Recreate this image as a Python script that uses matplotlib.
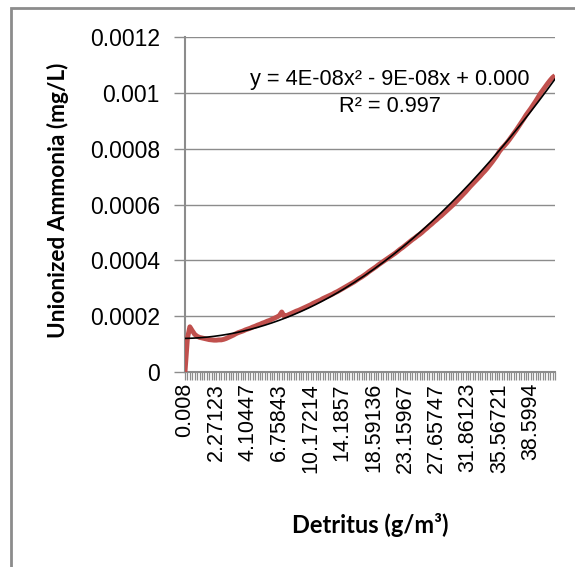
import numpy as np
import matplotlib.pyplot as plt
from matplotlib.patches import Rectangle

# Detritus category labels shown on the axis (one every 13 categories)
detritus_labels = ['0.008', '2.27123', '4.10447', '6.75843', '10.17214', '14.1857',
                   '18.59136', '23.15967', '27.65747', '31.86123', '35.56721', '38.5994']
label_step = 13
n_points = 154

# Unionized ammonia (units of 1e-4 mg/L)
ammonia_e4 = [
    0.00, 1.20, 1.62, 1.48, 1.35, 1.28, 1.24, 1.22, 1.20, 1.18,
    1.16, 1.15, 1.14, 1.14, 1.15, 1.15, 1.17, 1.20, 1.24, 1.28,
    1.32, 1.37, 1.41, 1.44, 1.47, 1.51, 1.54, 1.57, 1.61, 1.64,
    1.68, 1.71, 1.75, 1.78, 1.82, 1.85, 1.89, 1.93, 1.97, 2.02,
    2.15, 2.00, 2.02, 2.06, 2.10, 2.14, 2.18, 2.21, 2.25, 2.29,
    2.33, 2.37, 2.41, 2.46, 2.50, 2.54, 2.58, 2.63, 2.67, 2.71,
    2.75, 2.79, 2.84, 2.88, 2.93, 2.98, 3.03, 3.08, 3.13, 3.18,
    3.23, 3.29, 3.35, 3.40, 3.46, 3.52, 3.59, 3.65, 3.71, 3.77,
    3.84, 3.90, 3.96, 4.02, 4.08, 4.14, 4.20, 4.26, 4.33, 4.40,
    4.46, 4.53, 4.60, 4.67, 4.74, 4.80, 4.87, 4.93, 5.00, 5.08,
    5.15, 5.23, 5.30, 5.38, 5.45, 5.53, 5.60, 5.68, 5.76, 5.84,
    5.92, 6.00, 6.09, 6.18, 6.27, 6.36, 6.45, 6.55, 6.65, 6.74,
    6.83, 6.92, 7.01, 7.11, 7.20, 7.30, 7.41, 7.52, 7.64, 7.76,
    7.90, 8.01, 8.10, 8.20, 8.31, 8.43, 8.55, 8.67, 8.80, 8.93,
    9.06, 9.20, 9.32, 9.44, 9.57, 9.70, 9.84, 9.98, 10.10, 10.22,
    10.34, 10.45, 10.55, 10.62,
]

y = np.array(ammonia_e4) * 1e-4
idx = np.arange(len(y))

# polynomial trendline (Excel uses x = 1..n for line charts)
coef = np.polyfit(idx + 1, y, 2)
trend = np.polyval(coef, idx + 1)

fig = plt.figure(figsize=(5.75, 5.67), dpi=100)
ax = fig.add_axes([185/575, 1 - 372/567, (555 - 185)/575, (372 - 37)/567])

grey = '#8c8c8c'
ax.plot(idx, y, color='#c0504d', lw=3.5, solid_capstyle='butt', zorder=3)
ax.plot(idx, trend, color='black', lw=1.2, zorder=4)

ax.set_xlim(0, n_points - 1)
ax.set_ylim(0, 0.0012)
ax.set_yticks(np.arange(0, 0.00121, 0.0002))
ax.set_yticklabels(['0', '0.0002', '0.0004', '0.0006', '0.0008', '0.001', '0.0012'],
                   family='Liberation Sans', fontsize=16.5)
ax.yaxis.grid(True, color=grey, lw=1)

labels = [''] * n_points
for k, lab in enumerate(detritus_labels):
    labels[k * label_step] = lab
ax.set_xticks(idx)
ax.set_xticklabels(labels, rotation=90, family='Liberation Sans', fontsize=15.5)

ax.tick_params(axis='y', length=8, color=grey, width=1, pad=10)
ax.tick_params(axis='x', length=6, color=grey, width=0.9, pad=2)
for s in ['top', 'right']:
    ax.spines[s].set_visible(False)
for s in ['left', 'bottom']:
    ax.spines[s].set_color(grey)
    ax.spines[s].set_linewidth(1.5)

fig.text(58/575, 1 - 200/567, 'Unionized Ammonia (mg/L)', family='Lato',
         fontweight='bold', fontsize=16.3, rotation=90, ha='center', va='center')
fig.text(370/575, 1 - 525/567, 'Detritus (g/m³)', family='Lato',
         fontweight='bold', fontsize=17, ha='center', va='center')

fig.text(390/575, 1 - 80/567, 'y = 4E-08x² - 9E-08x + 0.000', family='Liberation Sans',
         fontsize=15.7, ha='center', va='center')
fig.text(390/575, 1 - 107/567, 'R² = 0.997', family='Liberation Sans',
         fontsize=15.7, ha='center', va='center')

fig.patches.append(Rectangle((11/575, -0.05), 1.1, 1 - 8/567 + 0.05,
                             transform=fig.transFigure, fill=False,
                             edgecolor=grey, lw=2))

fig.savefig('out.png', dpi=100)
